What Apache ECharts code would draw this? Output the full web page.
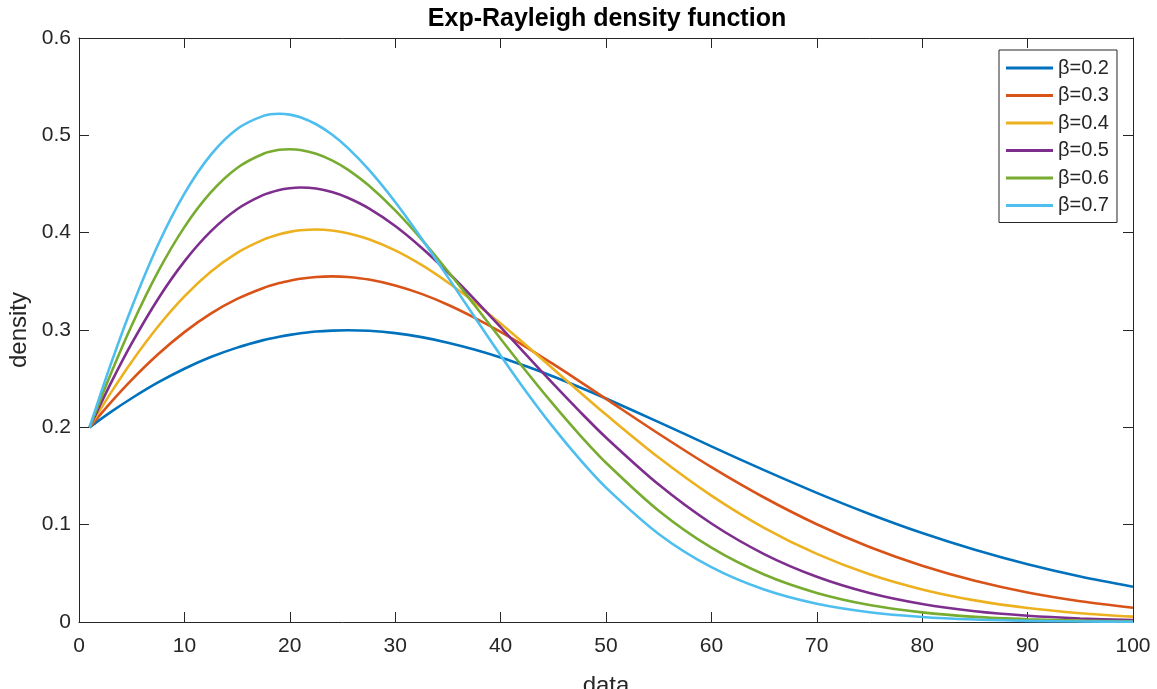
<!DOCTYPE html>
<html>
<head>
<meta charset="utf-8">
<script src="https://cdn.jsdelivr.net/npm/echarts@6/dist/echarts.min.js"></script>
<style>
  html, body { margin: 0; padding: 0; background: #ffffff; }
  #chart { width: 1157px; height: 689px; }
</style>
</head>
<body>
<div id="chart"></div>
<script>
// Sample positions along the data axis (denser around the peaks)
const dataX = [1, 3, 5, 7.5, 10, 12.5, 15, 17.5, 19, 20, 21, 22.5, 24, 25.5, 27.5, 30, 32.5, 35, 37.5, 40, 42.5, 45, 47.5, 50,
               55, 60, 65, 70, 75, 80, 85, 90, 95, 100];

// Density values for each beta
const beta02 = [0.2000, 0.2156, 0.2299, 0.2461, 0.2602, 0.2722, 0.2819, 0.2896, 0.2931, 0.2950, 0.2966, 0.2984, 0.2994, 0.2998, 0.2992, 0.2968, 0.2927, 0.2870, 0.2800, 0.2718, 0.2624, 0.2522, 0.2412, 0.2296,
                0.2054, 0.1805, 0.1560, 0.1327, 0.1110, 0.0914, 0.0742, 0.0593, 0.0467, 0.0362];
const beta03 = [0.2000, 0.2254, 0.2488, 0.2750, 0.2978, 0.3168, 0.3319, 0.3432, 0.3482, 0.3507, 0.3527, 0.3545, 0.3551, 0.3545, 0.3518, 0.3458, 0.3371, 0.3260, 0.3128, 0.2981, 0.2820, 0.2649, 0.2473, 0.2293,
                0.1934, 0.1591, 0.1279, 0.1004, 0.0770, 0.0578, 0.0424, 0.0304, 0.0214, 0.0147];
const beta04 = [0.2000, 0.2351, 0.2675, 0.3036, 0.3345, 0.3598, 0.3793, 0.3929, 0.3983, 0.4008, 0.4025, 0.4033, 0.4023, 0.3995, 0.3932, 0.3818, 0.3668, 0.3488, 0.3286, 0.3066, 0.2836, 0.2600, 0.2364, 0.2131,
                0.1690, 0.1299, 0.0968, 0.0700, 0.0491, 0.0335, 0.0222, 0.0143, 0.0090, 0.0055];
const beta05 = [0.2000, 0.2449, 0.2862, 0.3319, 0.3705, 0.4013, 0.4241, 0.4388, 0.4439, 0.4457, 0.4464, 0.4453, 0.4417, 0.4359, 0.4250, 0.4069, 0.3846, 0.3593, 0.3318, 0.3029, 0.2736, 0.2446, 0.2164, 0.1895,
                0.1412, 0.1012, 0.0698, 0.0465, 0.0298, 0.0185, 0.0110, 0.0064, 0.0036, 0.0019];
const beta06 = [0.2000, 0.2546, 0.3047, 0.3599, 0.4057, 0.4413, 0.4665, 0.4811, 0.4851, 0.4857, 0.4850, 0.4811, 0.4743, 0.4648, 0.4484, 0.4229, 0.3931, 0.3603, 0.3259, 0.2910, 0.2566, 0.2235, 0.1923, 0.1636,
                0.1143, 0.0763, 0.0488, 0.0299, 0.0175, 0.0099, 0.0053, 0.0028, 0.0014, 0.0007];
const beta07 = [0.2000, 0.2644, 0.3232, 0.3876, 0.4401, 0.4799, 0.5065, 0.5200, 0.5222, 0.5213, 0.5186, 0.5114, 0.5008, 0.4871, 0.4647, 0.4315, 0.3941, 0.3543, 0.3138, 0.2739, 0.2356, 0.1999, 0.1673, 0.1381,
                0.0905, 0.0563, 0.0333, 0.0187, 0.0100, 0.0051, 0.0025, 0.0012, 0.0005, 0.0002];

const seriesNames = ['β=0.2', 'β=0.3', 'β=0.4', 'β=0.5', 'β=0.6', 'β=0.7'];
const seriesValues = [beta02, beta03, beta04, beta05, beta06, beta07];
const seriesColors = ['#0072BD', '#D95319', '#EDB120', '#7E2F8E', '#77AC30', '#4DBEEE'];

const titleText = 'Exp-Rayleigh density function';
const xName = 'data';
const yName = 'density';

const FONT = '"Liberation Sans", Arial, Helvetica, sans-serif';
const INK = '#262626';

const chart = echarts.init(document.getElementById('chart'), null, { renderer: 'canvas' });

const plotLeft = 79, plotRight = 24, plotTop = 38, plotBottom = 67;

// Frame axes (top and right) that carry only inward ticks, closing the box
const frameAxis = {
  axisLine: { show: true, onZero: false, lineStyle: { color: INK, width: 1 } },
  axisTick: { show: true, inside: true, length: 10, lineStyle: { color: INK, width: 1 } },
  axisLabel: { show: false },
  splitLine: { show: false }
};

const option = {
  backgroundColor: '#ffffff',
  animation: false,
  textStyle: { fontFamily: FONT },
  graphic: [{
    type: 'text',
    x: 607, y: 19,
    style: {
      text: titleText,
      font: 'bold 25px ' + FONT,
      fill: '#000000',
      align: 'center',
      verticalAlign: 'middle'
    }
  }],
  legend: {
    orient: 'vertical',
    left: 999, top: 50,
    padding: [8, 8, 7, 7],
    itemWidth: 47, itemHeight: 3, itemGap: 7.5,
    icon: 'rect',
    backgroundColor: '#ffffff',
    borderColor: INK, borderWidth: 1, borderRadius: 0,
    textStyle: { fontFamily: FONT, fontSize: 20, color: INK, lineHeight: 20, padding: [0, 0, 0, 0] },
    data: seriesNames
  },
  grid: {
    left: plotLeft, right: plotRight, top: plotTop, bottom: plotBottom,
    containLabel: false, outerBoundsMode: 'none'
  },
  xAxis: [{
    type: 'value', min: 0, max: 100, interval: 10,
    position: 'bottom',
    name: xName, nameLocation: 'middle', nameGap: 52,
    nameTextStyle: { fontFamily: FONT, fontSize: 24, color: INK },
    axisLine: { show: true, onZero: false, lineStyle: { color: INK, width: 1 } },
    axisTick: { show: true, inside: true, length: 10, lineStyle: { color: INK, width: 1 } },
    axisLabel: { fontFamily: FONT, fontSize: 21, color: INK, margin: 14 },
    splitLine: { show: false }
  }, Object.assign({ type: 'value', min: 0, max: 100, interval: 10, position: 'top' }, frameAxis)],
  yAxis: [{
    type: 'value', min: 0, max: 0.6, interval: 0.1,
    position: 'left',
    name: yName, nameLocation: 'middle', nameGap: 41, nameRotate: 90,
    nameTextStyle: { fontFamily: FONT, fontSize: 24, color: INK },
    axisLine: { show: true, onZero: false, lineStyle: { color: INK, width: 1 } },
    axisTick: { show: true, inside: true, length: 10, lineStyle: { color: INK, width: 1 } },
    axisLabel: { fontFamily: FONT, fontSize: 21, color: INK, margin: 8 },
    splitLine: { show: false }
  }, Object.assign({ type: 'value', min: 0, max: 0.6, interval: 0.1, position: 'right' }, frameAxis)],
  series: seriesNames.map((name, i) => ({
    name: name,
    type: 'line',
    xAxisIndex: 0,
    yAxisIndex: 0,
    data: dataX.map((x, j) => [x, seriesValues[i][j]]),
    smooth: 0.3,
    showSymbol: false,
    symbol: 'none',
    color: seriesColors[i],
    lineStyle: { color: seriesColors[i], width: 2.6 },
    z: 2 + i
  }))
};

chart.setOption(option);
</script>
</body>
</html>
